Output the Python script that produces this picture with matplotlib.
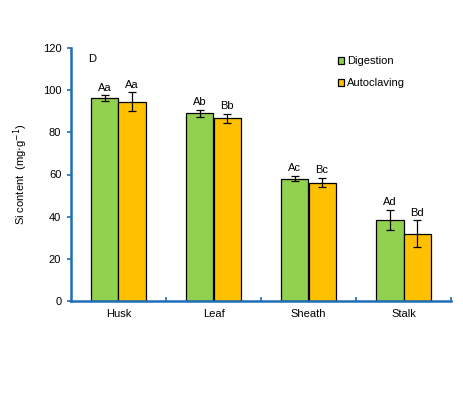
"""Si content by plant part, digestion vs autoclaving."""

import matplotlib

matplotlib.use("Agg")
import matplotlib.pyplot as plt
import numpy as np

parts = ["Husk", "Leaf", "Sheath", "Stalk"]
digestion = [96.3, 89.0, 58.1, 38.6]
digestion_err = [1.3, 1.6, 1.4, 4.7]
autoclaving = [94.6, 86.6, 56.2, 31.9]
autoclaving_err = [4.3, 2.2, 2.2, 6.4]
digestion_letters = ["Aa", "Ab", "Ac", "Ad"]
autoclaving_letters = ["Aa", "Bb", "Bc", "Bd"]

plt.rcParams["font.family"] = ["Liberation Sans", "DejaVu Sans"]

AXIS_BLUE = "#1f6db5"
GREEN = "#92d050"
ORANGE = "#ffc000"

fig = plt.figure(figsize=(4.64, 3.98), dpi=100)
ax = fig.add_axes([71 / 464, 1 - 301 / 398, 380 / 464, 253 / 398])

x = np.arange(len(parts)) + 0.5
w = 0.285
err_kw = dict(ecolor="black", elinewidth=0.9, capsize=3, capthick=0.9)
ax.bar(x - w / 2, digestion, w, yerr=digestion_err, color=GREEN,
       edgecolor="black", linewidth=0.9, label="Digestion", error_kw=err_kw)
ax.bar(x + w / 2, autoclaving, w, yerr=autoclaving_err, color=ORANGE,
       edgecolor="black", linewidth=0.9, label="Autoclaving", error_kw=err_kw)

for xi, v, e, t in zip(x - w / 2, digestion, digestion_err, digestion_letters):
    ax.text(xi, v + e + 1.2, t, ha="center", va="bottom", fontsize=8)
for xi, v, e, t in zip(x + w / 2, autoclaving, autoclaving_err, autoclaving_letters):
    ax.text(xi, v + e + 1.2, t, ha="center", va="bottom", fontsize=8)

ax.set_xlim(0, len(parts))
ax.set_ylim(0, 120)
ax.set_yticks(np.arange(0, 121, 20))
ax.set_xticks(x)
ax.set_xticklabels(parts, fontsize=8)
ax.set_xticks(np.arange(1, len(parts) + 1), minor=True)
ax.tick_params(axis="x", which="major", length=0, pad=6)
ax.tick_params(axis="x", which="minor", direction="in", length=3,
               color=AXIS_BLUE, width=1.2)
ax.tick_params(axis="y", labelsize=8, length=3, color=AXIS_BLUE, width=1.2,
               direction="out", pad=4)

for side in ("top", "right"):
    ax.spines[side].set_visible(False)
for side in ("left", "bottom"):
    ax.spines[side].set_color(AXIS_BLUE)
    ax.spines[side].set_linewidth(1.8)

ax.set_ylabel("Si content  (mg$\\cdot$g$^{-1}$)", fontsize=8, labelpad=9)
ax.text(0.045, 0.955, "D", transform=ax.transAxes, fontsize=8, va="center")

ax.legend(loc="upper left", bbox_to_anchor=(0.69, 0.985), frameon=False,
          fontsize=8, handlelength=0.55, handleheight=0.55, handletextpad=0.3,
          labelspacing=1.1, borderaxespad=0)

fig.savefig("out.png", dpi=100)
plt.close(fig)
